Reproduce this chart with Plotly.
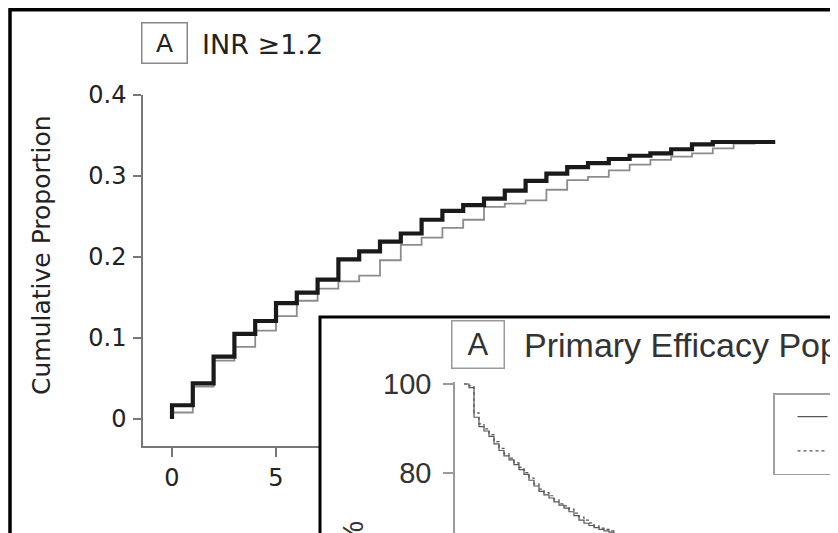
import plotly.graph_objects as go

W, H = 838, 533
OFF = 8  # the page body offsets the figure by 8 px

# ---------------- data ----------------
# Main panel (INR >= 1.2): cumulative proportion, step functions by day
main_x = [0, 0, 1, 2, 3, 4, 5, 6, 7, 8, 9, 10, 11, 12, 13, 14, 15, 16, 17, 18, 19,
          20, 21, 22, 23, 24, 25, 26, 27, 28, 29]
thick_series = [0, 0.017, 0.044, 0.077, 0.105, 0.121, 0.143, 0.156, 0.172, 0.197, 0.207,
                0.219, 0.229, 0.246, 0.257, 0.264, 0.272, 0.282, 0.294, 0.303, 0.311,
                0.316, 0.321, 0.325, 0.328, 0.333, 0.339, 0.342, 0.342, 0.342, 0.342]
thin_series = [0, 0.008, 0.040, 0.072, 0.089, 0.109, 0.127, 0.146, 0.161, 0.170, 0.177,
               0.196, 0.215, 0.224, 0.236, 0.246, 0.262, 0.266, 0.270, 0.283, 0.295,
               0.299, 0.307, 0.314, 0.320, 0.324, 0.328, 0.334, 0.340, 0.341, 0.341]
main_yticks = [0, 0.1, 0.2, 0.3, 0.4]
main_yticklabels = ["0", "0.1", "0.2", "0.3", "0.4"]
main_xticks = [0, 5, 10, 15, 20, 25, 30]

# Inset panel (Primary Efficacy Population): Kaplan-Meier style curves (%)
inset_t = list(range(0, 31))
inset_solid = [100, 99.2, 92.5, 90.4, 89.4, 88.2, 86.5, 85.0, 83.8, 82.9, 81.8, 80.7,
               79.6, 78.3, 77.0, 75.8, 75.0, 74.3, 73.4, 72.7, 72.0, 71.2, 70.3, 69.3,
               68.6, 68.1, 67.6, 67.2, 66.9, 66.6, 66.3]
inset_dotted = [100, 99.6, 93.5, 91.0, 89.9, 88.6, 87.0, 85.5, 84.3, 83.3, 82.2, 81.2,
                80.0, 78.8, 77.5, 76.3, 75.5, 74.8, 73.9, 73.0, 72.5, 71.8, 70.9, 70.0,
                69.3, 68.7, 68.0, 67.5, 67.2, 66.9, 66.6]
inset_yticks = [80, 100]
inset_names = ["Apixaban", "Enoxaparin"]

MAIN_FONT = "DejaVu Sans"
INSET_FONT = "Liberation Sans"


def px(x):
    return (x - OFF) / W


def py(y):
    return (H - (y - OFF)) / H


fig = go.Figure()

fig.add_trace(go.Scatter(x=main_x, y=thin_series, mode="lines", xaxis="x", yaxis="y",
                         line=dict(shape="hv", color="#8c8c8c", width=1.8),
                         showlegend=False, hoverinfo="skip"))
fig.add_trace(go.Scatter(x=main_x, y=thick_series, mode="lines", xaxis="x", yaxis="y",
                         line=dict(shape="hv", color="#1a1a1a", width=4.2),
                         showlegend=False, hoverinfo="skip"))
# empty subplot used as the white panel of the inset
fig.add_trace(go.Scatter(x=[], y=[], xaxis="x2", yaxis="y2", showlegend=False))
fig.add_trace(go.Scatter(x=inset_t, y=inset_solid, mode="lines", xaxis="x3", yaxis="y3",
                         name=inset_names[0],
                         line=dict(shape="hv", color="#555555", width=1.2)))
fig.add_trace(go.Scatter(x=inset_t, y=inset_dotted, mode="lines", xaxis="x3", yaxis="y3",
                         name=inset_names[1],
                         line=dict(shape="hv", color="#555555", width=1.2, dash="dot")))

axis_style = dict(showline=True, linecolor="#777777", linewidth=1.5, ticks="outside",
                  tickcolor="#777777", tickwidth=1.5, showgrid=False, zeroline=False,
                  tickfont=dict(family=MAIN_FONT, size=24, color="#222222"))

fig.update_layout(
    width=W, height=H,
    margin=dict(l=0, r=0, t=0, b=0, pad=0, autoexpand=False),
    paper_bgcolor="white", plot_bgcolor="white",
    xaxis=dict(domain=[px(143), 1], range=[(143 - 172) / 20.8, (W + OFF - 172) / 20.8],
               anchor="y", tickvals=main_xticks, ticklen=9, **axis_style),
    yaxis=dict(domain=[py(446), py(95)], range=[(419 - 446) / 810, 0.4], anchor="x",
               tickvals=main_yticks, ticktext=main_yticklabels, ticklen=8,
               ticklabelstandoff=2, **axis_style),
    xaxis2=dict(domain=[px(320), 1], range=[0, 1], anchor="y2", visible=False),
    yaxis2=dict(domain=[0, py(317)], range=[0, 1], anchor="x2", visible=False),
    xaxis3=dict(domain=[px(455), 1], range=[(455 - 464) / 5, (W + OFF - 464) / 5],
                anchor="y3", visible=False),
    yaxis3=dict(domain=[0, py(382)], range=[64.6, 100.45], anchor="x3",
                showline=True, linecolor="#9a9a9a", linewidth=1.5, ticks="outside",
                tickcolor="#9a9a9a", tickwidth=1.5, ticklen=10, ticklabelstandoff=6,
                tickvals=inset_yticks, showgrid=False, zeroline=False,
                tickfont=dict(family=INSET_FONT, size=29, color="#333333")),
    legend=dict(x=px(773), y=py(393), xanchor="left", yanchor="top",
                bgcolor="white", bordercolor="#a0a0a0", borderwidth=1.5,
                indentation=18, font=dict(family=INSET_FONT, size=24, color="#333333")),
    showlegend=True,
)

annotations = [
    dict(x=px(164.5), y=py(43), text="A"),
    dict(x=px(200), y=py(44), text="INR ≥1.2"),
    dict(x=px(42), y=py(255), text="Cumulative Proportion"),
    dict(x=px(478), y=py(344.5), text="A"),
    dict(x=px(522), y=py(345), text="Primary Efficacy Population"),
    dict(x=px(352), y=py(519), text="Event-Free Survival, %"),
]
styles = [
    dict(xanchor="center", yanchor="middle", width=42, height=37, bordercolor="#888888",
         borderwidth=1.5, font=dict(family=MAIN_FONT, size=25, color="#222222")),
    dict(xanchor="left", yanchor="middle",
         font=dict(family=MAIN_FONT, size=27, color="#222222")),
    dict(textangle=-90, xanchor="center", yanchor="middle",
         font=dict(family=MAIN_FONT, size=25, color="#222222")),
    dict(xanchor="center", yanchor="middle", width=49, height=44, bordercolor="#9a9a9a",
         borderwidth=1.5, font=dict(family=INSET_FONT, size=31, color="#333333")),
    dict(xanchor="left", yanchor="middle",
         font=dict(family=INSET_FONT, size=34, color="#333333")),
    dict(textangle=-90, xanchor="center", yanchor="top",
         font=dict(family=INSET_FONT, size=30, color="#333333")),
]
for a, s in zip(annotations, styles):
    a.update(s)
    a.update(xref="paper", yref="paper", showarrow=False)
fig.update_layout(annotations=annotations)

fig.update_layout(shapes=[
    dict(type="rect", xref="paper", yref="paper", x0=px(10), x1=1.1, y0=-0.1,
         y1=1 - 1.8 / H,
         line=dict(color="black", width=3.5), fillcolor="rgba(0,0,0,0)", layer="above"),
    dict(type="rect", xref="paper", yref="paper", x0=px(320), x1=1.1, y0=-0.1, y1=py(317),
         line=dict(color="black", width=3), fillcolor="rgba(0,0,0,0)", layer="above"),
])

fig.write_html("out.html")
